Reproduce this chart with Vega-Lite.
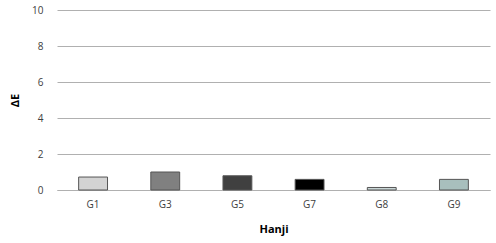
{
  "$schema": "https://vega.github.io/schema/vega-lite/v6.json",
  "autosize": {"type": "none"},
  "padding": {"left": 57, "top": 10, "right": 6, "bottom": 53},
  "width": 433,
  "height": 180,
  "background": "white",
  "data": {"values": [
    {"g": "G1", "v": 0.72, "c": "#d3d3d3"},
    {"g": "G3", "v": 1.0, "c": "#808080"},
    {"g": "G5", "v": 0.79, "c": "#404040"},
    {"g": "G7", "v": 0.59, "c": "#000000"},
    {"g": "G8", "v": 0.14, "c": "#c9d6d6"},
    {"g": "G9", "v": 0.59, "c": "#a8bfbd"}
  ]},
  "mark": {"type": "bar", "stroke": "#555555", "strokeWidth": 1},
  "encoding": {
    "x": {"field": "g", "type": "nominal", "sort": null,
      "scale": {"paddingInner": 0.6, "paddingOuter": 0.3},
      "axis": {"title": "Hanji", "labelAngle": 0, "ticks": false, "domainColor": "#b0b0b0",
        "labelFont": "Open Sans", "labelFontSize": 10, "labelColor": "#404040", "labelPadding": 9,
        "titleFont": "Open Sans", "titleFontSize": 11, "titleFontWeight": "bold", "titleColor": "#000000", "titlePadding": 14}},
    "y": {"field": "v", "type": "quantitative",
      "scale": {"domain": [0, 10]},
      "axis": {"title": "ΔE", "values": [0, 2, 4, 6, 8, 10], "ticks": false, "domain": false,
        "gridColor": "#b0b0b0", "labelFont": "Open Sans", "labelFontSize": 10, "labelColor": "#404040", "labelPadding": 14,
        "titleFont": "Open Sans", "titleFontSize": 11, "titleFontWeight": "bold", "titleColor": "#000000", "titlePadding": 11}},
    "color": {"field": "c", "type": "nominal", "scale": null, "legend": null}
  },
  "config": {"view": {"stroke": null}}
}
